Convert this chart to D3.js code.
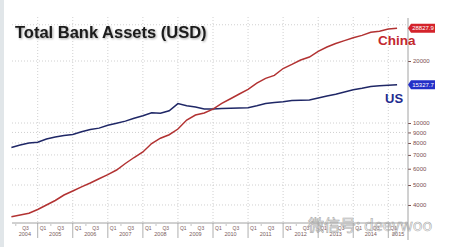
<!DOCTYPE html>
<html>
<head>
<meta charset="utf-8">
<script src="https://cdn.jsdelivr.net/npm/d3@7"></script>
<style>
  body { margin: 0; background: #fff; }
  svg { display: block; font-family: "Liberation Sans", Arial, sans-serif; }
</style>
</head>
<body>
<div id="chart"></div>
<script>
// quarters shown on the chart
var quarters = ["2004Q2","2004Q3","2004Q4",
  "2005Q1","2005Q2","2005Q3","2005Q4",
  "2006Q1","2006Q2","2006Q3","2006Q4",
  "2007Q1","2007Q2","2007Q3","2007Q4",
  "2008Q1","2008Q2","2008Q3","2008Q4",
  "2009Q1","2009Q2","2009Q3","2009Q4",
  "2010Q1","2010Q2","2010Q3","2010Q4",
  "2011Q1","2011Q2","2011Q3","2011Q4",
  "2012Q1","2012Q2","2012Q3","2012Q4",
  "2013Q1","2013Q2","2013Q3","2013Q4",
  "2014Q1","2014Q2","2014Q3","2014Q4",
  "2015Q1","2015Q2"];

// total bank assets, USD bn
var china = [3505, 3576, 3649,
  3803, 3999, 4205, 4471,
  4675, 4900, 5113, 5365,
  5617, 5913, 6360, 6801,
  7232, 7953, 8437, 8773,
  9352, 10340, 10936, 11180,
  11680, 12460, 13120, 13830,
  14580, 15610, 16480, 17040,
  18390, 19250, 20220, 20910,
  22290, 23380, 24340, 25120,
  25920, 26650, 27560, 27930,
  28600, 28827.9];

var us = [7603, 7818, 7995,
  8069, 8363, 8551, 8695,
  8804, 9073, 9299, 9446,
  9757, 9978, 10215, 10551,
  10850, 11208, 11145, 11460,
  12430, 12120, 11970, 11700,
  11700, 11750, 11800, 11830,
  11870, 12130, 12430, 12570,
  12690, 12850, 12890, 12930,
  13230, 13540, 13800, 14130,
  14500, 14750, 15050, 15190,
  15250, 15327.7];

var yTicks = [4000, 5000, 6000, 7000, 8000, 9000, 10000, 20000];
var yGrid = [4000, 5000, 6000, 7000, 8000, 9000, 10000, 20000, 30000];
var years = [2004, 2005, 2006, 2007, 2008, 2009, 2010, 2011, 2012, 2013, 2014, 2015];

var width = 450, height = 247;
var plot = { left: 12, right: 408, top: 12, bottom: 223 };

var svg = d3.select("#chart").append("svg")
  .attr("width", width)
  .attr("height", height);

// soft shadow for the title
var defs = svg.append("defs");
var f = defs.append("filter").attr("id", "shadow")
  .attr("x", "-10%").attr("y", "-30%").attr("width", "120%").attr("height", "160%");
f.append("feDropShadow").attr("dx", 1).attr("dy", 1).attr("stdDeviation", 1)
  .attr("flood-color", "#000").attr("flood-opacity", 0.35);

// left edge strip
svg.append("rect").attr("x", 0).attr("y", 0).attr("width", 4).attr("height", height)
  .attr("fill", "#e1e6e9");

function toYear(q) {
  return +q.slice(0, 4) + (+q.slice(5) - 1) / 4;
}

var x = d3.scaleLinear().domain([2005, 2015]).range([37.7, 388.3]);
var y = d3.scaleLog().domain([3270, 34600]).range([plot.bottom, plot.top]);

// gridlines
svg.append("g").selectAll("line")
  .data(yGrid).enter().append("line")
  .attr("x1", plot.left).attr("x2", plot.right)
  .attr("y1", d => y(d)).attr("y2", d => y(d))
  .attr("stroke", "#c4c4c4").attr("stroke-width", 0.8)
  .attr("stroke-dasharray", "1,2");

svg.append("g").selectAll("line")
  .data(years.slice(1)).enter().append("line")
  .attr("x1", d => x(d)).attr("x2", d => x(d))
  .attr("y1", plot.top + 5).attr("y2", plot.bottom)
  .attr("stroke", "#c4c4c4").attr("stroke-width", 0.8)
  .attr("stroke-dasharray", "1,2");

// right axis
var rightAxis = d3.axisRight(y).tickValues(yTicks).tickSize(3).tickPadding(2)
  .tickFormat(d3.format("d"));
var ya = svg.append("g")
  .attr("transform", `translate(${plot.right},0)`)
  .call(rightAxis);
ya.select(".domain").remove();
ya.selectAll(".tick line").attr("stroke", "#7a5050");
ya.selectAll(".tick text").attr("font-size", 6).attr("fill", "#7a5050")
  .attr("font-family", "'Liberation Sans', Arial, sans-serif");
svg.append("line")
  .attr("x1", plot.right).attr("x2", plot.right)
  .attr("y1", 18).attr("y2", 240)
  .attr("stroke", "#8c8c8c").attr("stroke-width", 0.8);

// bottom axis
svg.append("line")
  .attr("x1", plot.left).attr("x2", plot.right)
  .attr("y1", plot.bottom).attr("y2", plot.bottom)
  .attr("stroke", "#8c8c8c").attr("stroke-width", 0.8);

svg.append("g").selectAll("line")
  .data(years.slice(1)).enter().append("line")
  .attr("x1", d => x(d)).attr("x2", d => x(d))
  .attr("y1", plot.bottom).attr("y2", plot.bottom + 15)
  .attr("stroke", "#9a9a9a").attr("stroke-width", 0.8);

var qLabels = [];
var minor = [];
years.forEach(function(yr) {
  [[1, "Q1"], [3, "Q3"]].forEach(function(q) {
    var px = x(yr + (q[0] - 1) / 4 + 0.125) + 1;
    if (px > plot.left + 2 && px < plot.right - 3) qLabels.push({ x: px, t: q[1] });
  });
  var mx = x(yr + 0.375);
  if (mx > plot.left && mx < plot.right) minor.push(mx);
});

svg.append("g").selectAll("text")
  .data(qLabels).enter().append("text")
  .attr("x", d => d.x).attr("y", plot.bottom + 6.5)
  .attr("text-anchor", "middle")
  .attr("font-size", 5).attr("fill", "#7a5a5a")
  .text(d => d.t);

svg.append("g").selectAll("line")
  .data(minor).enter().append("line")
  .attr("x1", d => d).attr("x2", d => d)
  .attr("y1", plot.bottom + 1).attr("y2", plot.bottom + 3)
  .attr("stroke", "#9a9a9a").attr("stroke-width", 0.6);

svg.append("g").selectAll("text")
  .data(years).enter().append("text")
  .attr("x", function(d) {
    var a = Math.max(x(d), plot.left), b = Math.min(x(d + 1), plot.right);
    return (a + b) / 2;
  })
  .attr("y", plot.bottom + 13)
  .attr("text-anchor", "middle")
  .attr("font-size", 5.5).attr("fill", "#7a5a5a")
  .text(d => d);

// lines
var line = d3.line()
  .x((d, i) => x(toYear(quarters[i])))
  .y(d => y(d));

svg.append("path").datum(us)
  .attr("d", line)
  .attr("fill", "none").attr("stroke", "#1f2766").attr("stroke-width", 1.5);

svg.append("path").datum(china)
  .attr("d", line)
  .attr("fill", "none").attr("stroke", "#b23232").attr("stroke-width", 1.5);

// last value tags
function tag(v, color) {
  var cy = y(v);
  svg.append("path")
    .attr("d", `M${plot.right},${cy} L${plot.right + 3},${cy - 4.5} H${plot.right + 27} V${cy + 4.5} H${plot.right + 3} Z`)
    .attr("fill", color);
  svg.append("text")
    .attr("x", plot.right + 15).attr("y", cy + 2)
    .attr("text-anchor", "middle")
    .attr("font-size", 6).attr("fill", "#fff")
    .text(d3.format(".1f")(v));
}
tag(china[china.length - 1], "#d4232b");
tag(us[us.length - 1], "#2430c8");

// series labels
svg.append("text")
  .attr("x", 378).attr("y", 45)
  .attr("font-size", 13.5).attr("font-weight", "bold").attr("fill", "#c3282e")
  .text("China");

svg.append("text")
  .attr("x", 385).attr("y", 103)
  .attr("font-size", 13).attr("font-weight", "bold").attr("fill", "#1e2b8f")
  .text("US");

// title
svg.append("text")
  .attr("x", 15).attr("y", 38)
  .attr("font-size", 16.5).attr("font-weight", "bold").attr("fill", "#1a1a1a")
  .attr("filter", "url(#shadow)")
  .text("Total Bank Assets (USD)");

// watermark
svg.append("text")
  .attr("x", 308).attr("y", 231)
  .attr("font-size", 16)
  .attr("font-family", "'Noto Sans CJK SC', sans-serif")
  .attr("fill", "none").attr("stroke", "#a8a8a8").attr("stroke-width", 0.6)
  .text("微信号: deeywoo");
</script>
</body>
</html>
